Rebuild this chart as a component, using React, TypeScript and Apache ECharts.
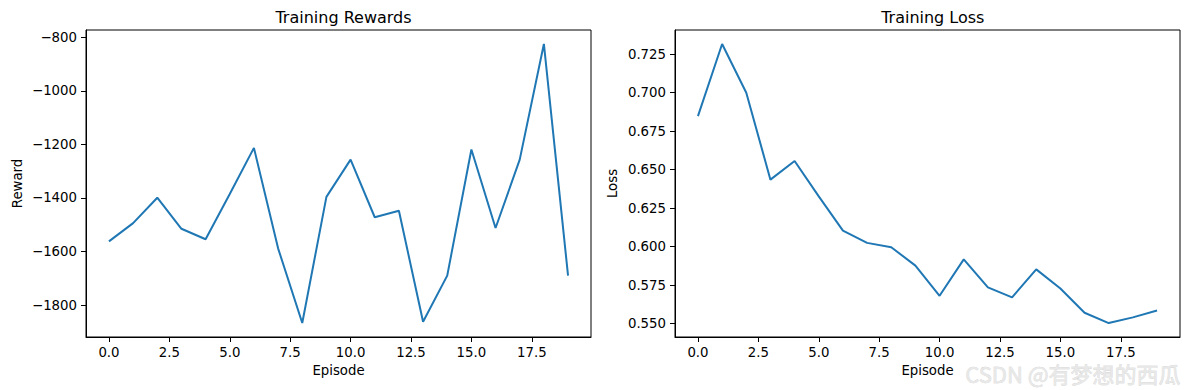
import React, { useEffect, useRef } from "react";
import * as echarts from "echarts";

const episodes = [0, 1, 2, 3, 4, 5, 6, 7, 8, 9, 10, 11, 12, 13, 14, 15, 16, 17, 18, 19];
const rewards = [-1562, -1494, -1399, -1515, -1554, -1385, -1213, -1588, -1867, -1396, -1257, -1472, -1448, -1862, -1690, -1219, -1512, -1257, -825, -1690];
const losses = [0.6848, 0.7317, 0.700, 0.6435, 0.6556, 0.6326, 0.6104, 0.6024, 0.5996, 0.5876, 0.568, 0.5917, 0.5735, 0.567, 0.5852, 0.5728, 0.557, 0.5503, 0.554, 0.5585];
const xTicks = [0, 2.5, 5, 7.5, 10, 12.5, 15, 17.5];
const rewardTicks = [-1800, -1600, -1400, -1200, -1000, -800];
const lossTicks = [0.55, 0.575, 0.6, 0.625, 0.65, 0.675, 0.7, 0.725];

const FONT = "DejaVu Sans";
const LINE = "#1f77b4";

function padRange(vals: number[]) {
  const mn = Math.min(...vals);
  const mx = Math.max(...vals);
  const r = mx - mn;
  return [mn - 0.05 * r, mx + 0.05 * r];
}

export default function App() {
  const ref = useRef<HTMLDivElement>(null);
  useEffect(() => {
    if (!ref.current) return;
    const chart = echarts.init(ref.current, undefined, { renderer: "svg" });
    const [xMin, xMax] = padRange(episodes);
    const [rMin, rMax] = padRange(rewards);
    const [lMin, lMax] = padRange(losses);
    const minus = (s: string) => s.replace("-", "\u2212");
    const xAxisBase = (gi: number) => ({
      type: "value",
      gridIndex: gi,
      min: xMin,
      max: xMax,
      name: "Episode",
      nameLocation: "middle",
      nameGap: 27,
      nameTextStyle: { fontFamily: FONT, fontSize: 13.3, color: "#000" },
      axisLine: { show: true, onZero: false, lineStyle: { color: "#000", width: 1 } },
      axisTick: { show: true, inside: false, length: 5, customValues: xTicks, lineStyle: { color: "#000" } },
      axisLabel: {
        show: true,
        customValues: xTicks,
        margin: 9,
        fontFamily: FONT,
        fontSize: 13.3,
        color: "#000",
        formatter: (v: number) => v.toFixed(1),
      },
      splitLine: { show: false },
    });
    const option: any = {
      animation: false,
      backgroundColor: "#fff",
      title: [
        { text: "Training Rewards", left: 338.5, top: 4, textAlign: "center", textStyle: { fontFamily: FONT, fontSize: 16, fontWeight: "normal", color: "#000" } },
        { text: "Training Loss", left: 927.8, top: 4, textAlign: "center", textStyle: { fontFamily: FONT, fontSize: 16, fontWeight: "normal", color: "#000" } },
      ],
      grid: [
        { left: 86, top: 30, width: 505, height: 307, show: true, borderColor: "#000", borderWidth: 1, backgroundColor: "transparent" },
        { left: 675, top: 30, width: 505, height: 307, show: true, borderColor: "#000", borderWidth: 1, backgroundColor: "transparent" },
      ],
      xAxis: [xAxisBase(0), xAxisBase(1)],
      yAxis: [
        {
          type: "value",
          gridIndex: 0,
          min: rMin,
          max: rMax,
          name: "Reward",
          nameLocation: "middle",
          nameGap: 62,
          nameTextStyle: { fontFamily: FONT, fontSize: 13.3, color: "#000" },
          axisLine: { show: true, onZero: false, lineStyle: { color: "#000" } },
          axisTick: { show: true, inside: false, length: 5, customValues: rewardTicks, lineStyle: { color: "#000" } },
          axisLabel: {
            show: true,
            customValues: rewardTicks,
            margin: 9,
            fontFamily: FONT,
            fontSize: 13.3,
            color: "#000",
            formatter: (v: number) => minus(String(Math.round(v))),
          },
          splitLine: { show: false },
        },
        {
          type: "value",
          gridIndex: 1,
          min: lMin,
          max: lMax,
          name: "Loss",
          nameLocation: "middle",
          nameGap: 56,
          nameTextStyle: { fontFamily: FONT, fontSize: 13.3, color: "#000" },
          axisLine: { show: true, onZero: false, lineStyle: { color: "#000" } },
          axisTick: { show: true, inside: false, length: 5, customValues: lossTicks, lineStyle: { color: "#000" } },
          axisLabel: {
            show: true,
            customValues: lossTicks,
            margin: 9,
            fontFamily: FONT,
            fontSize: 13.3,
            color: "#000",
            formatter: (v: number) => v.toFixed(3),
          },
          splitLine: { show: false },
        },
      ],
      series: [
        {
          type: "line",
          xAxisIndex: 0,
          yAxisIndex: 0,
          data: episodes.map((e, i) => [e, rewards[i]]),
          showSymbol: false,
          symbol: "none",
          lineStyle: { color: LINE, width: 2 },
        },
        {
          type: "line",
          xAxisIndex: 1,
          yAxisIndex: 1,
          data: episodes.map((e, i) => [e, losses[i]]),
          showSymbol: false,
          symbol: "none",
          lineStyle: { color: LINE, width: 2 },
        },
      ],
      graphic: [
        {
          type: "text",
          left: 965,
          top: 362,
          z: 100,
          style: {
            text: "CSDN @有梦想的西瓜",
            fontFamily: "Noto Sans CJK SC",
            fontSize: 22,
            lineHeight: 18,
            fill: "#e8e8e8",
            stroke: "#c4c4c4",
            lineWidth: 0.4,
          },
        },
      ],
    };
    chart.setOption(option);
    return () => chart.dispose();
  }, []);
  return (
    <div
      ref={ref}
      style={{ position: "fixed", left: 0, top: 0, width: 1189, height: 390, background: "#fff" }}
    />
  );
}
